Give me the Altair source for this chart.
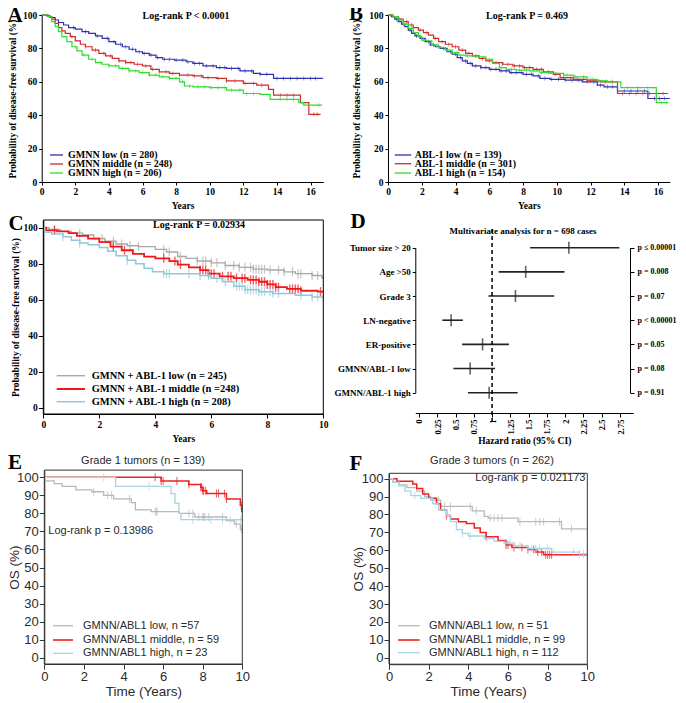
import altair as alt
import pandas as pd

# ======================= DATA =======================
# ---- Panel A : DFS by GMNN (years, % surviving) ----
A_labels = ["GMNN low (n = 280)", "GMNN middle (n = 248)", "GMNN high (n = 206)"]
A_low_t = [0.3, 0.5, 0.8, 1.0, 1.3, 1.6, 2.0, 2.4, 2.8, 3.2, 3.6, 4.0, 4.4, 4.8, 5.2, 5.6, 6.0, 6.4, 6.8, 7.2, 7.9, 8.6, 9.0, 9.6, 10.4, 11.0, 11.8, 12.6, 13.0, 13.8]
A_low_s = [99.5, 98.5, 97, 95.5, 94, 92.5, 91.5, 90, 89, 87.5, 86, 84, 82.5, 81, 79.5, 78, 77, 76, 74.5, 73.5, 73, 72, 71, 69.5, 68.5, 68, 66.5, 65, 64.5, 62]
A_low_end = 16.75
A_low_c = [1.9, 2.6, 3.3, 3.9, 4.3, 4.7, 5.0, 5.4, 5.8, 6.1, 6.5, 6.9, 7.3, 7.6, 8.0, 8.4, 8.7, 9.1, 9.4, 9.8, 10.2, 10.6, 10.9, 11.3, 11.7, 12.1, 12.5, 13.0, 13.4, 14.0, 14.4, 14.8, 15.2, 15.6, 16.0, 16.3]
A_mid_t = [0.4, 0.6, 0.8, 1.0, 1.2, 1.4, 1.7, 2.0, 2.3, 2.6, 3.0, 3.4, 3.8, 4.2, 4.6, 5.0, 5.5, 6.0, 6.5, 7.0, 7.6, 8.2, 9.0, 9.6, 10.4, 11.0, 12.0, 12.8, 13.5, 13.8, 15.4, 15.9]
A_mid_s = [99, 97.5, 95, 92.5, 90.5, 89, 87, 84.5, 82.5, 81, 79, 77, 75.5, 74, 72.5, 71.5, 70.5, 69.5, 67.5, 66, 65, 64, 63.5, 62.5, 62, 60.5, 59, 58, 55.5, 52, 47.5, 40.5]
A_mid_end = 16.6
A_mid_c = [1.8, 2.6, 3.2, 3.7, 4.1, 4.6, 5.0, 5.3, 5.7, 6.2, 6.6, 7.0, 7.4, 7.8, 8.2, 8.7, 9.1, 9.5, 9.9, 10.5, 11.0, 11.5, 12.1, 12.6, 13.1, 14.2, 14.6, 15.0, 16.2, 16.4]
A_high_t = [0.4, 0.6, 0.8, 1.0, 1.2, 1.5, 1.8, 2.1, 2.4, 2.8, 3.2, 3.6, 4.0, 4.6, 5.2, 5.8, 6.4, 7.0, 7.6, 8.2, 8.5, 9.0, 10.0, 11.0, 12.0, 13.0, 13.6, 15.3, 15.6]
A_high_s = [99, 96, 93, 90, 87, 84, 81, 78.5, 76, 73.5, 71.5, 70.5, 69.5, 68, 66.5, 65.5, 64, 63, 62, 60, 57.5, 57, 56.5, 55, 53, 52.5, 49.5, 47.5, 46]
A_high_end = 16.7
A_high_c = [2.0, 2.5, 3.0, 3.5, 4.0, 4.4, 4.8, 5.2, 5.6, 6.0, 6.4, 6.8, 7.2, 7.6, 8.0, 8.4, 8.8, 9.3, 9.7, 10.1, 10.5, 10.9, 11.3, 11.8, 12.2, 12.6, 14.2, 14.6, 15.0, 15.5, 16.5]

# ---- Panel B : DFS by ABL-1 ----
B_labels = ["ABL-1 low (n = 139)", "ABL-1 middle (n = 301)", "ABL-1 high (n = 154)"]
B_low_t = [0.2, 0.4, 0.6, 0.8, 1.0, 1.2, 1.4, 1.6, 1.9, 2.2, 2.5, 2.8, 3.1, 3.5, 3.8, 4.1, 4.4, 4.7, 5.0, 5.5, 6.0, 6.6, 7.2, 8.0, 8.6, 9.0, 9.6, 10.5, 11.5, 12.4, 12.8, 13.6, 15.4]
B_low_s = [99, 97.5, 96, 94.5, 93, 91, 89, 87.5, 86, 84, 82, 81, 80, 78, 76.5, 74.5, 72.5, 71, 69.5, 68.5, 67.5, 66.5, 65.5, 64.5, 63.5, 62, 61.5, 61, 60, 58, 57, 54.5, 50]
B_low_end = 16.7
B_low_c = [0.5, 0.9, 1.3, 1.7, 2.0, 2.4, 2.7, 3.0, 3.3, 3.7, 4.0, 4.3, 4.6, 4.9, 5.2, 5.5, 5.8, 6.1, 6.4, 6.7, 7.0, 7.3, 7.6, 7.9, 8.2, 8.5, 8.9, 9.3, 9.7, 10.1, 10.5, 10.9, 11.3, 11.8, 12.2, 12.6, 13.0, 13.3, 14.0, 14.4, 14.8, 15.2, 15.8, 16.1, 16.4]
B_mid_t = [0.3, 0.6, 0.9, 1.2, 1.5, 1.8, 2.1, 2.4, 2.7, 3.0, 3.4, 3.8, 4.2, 4.6, 5.0, 5.4, 5.8, 6.2, 6.8, 7.4, 8.0, 8.6, 9.2, 9.8, 10.2, 11.0, 11.8, 12.6, 13.6]
B_mid_s = [99, 97.5, 96, 94, 92.5, 91, 89.5, 88, 86, 84, 82.5, 81, 79, 77, 75.5, 74, 72.5, 71.5, 70.5, 69.5, 68.5, 67.5, 66, 64.5, 62.5, 61.5, 60.5, 60, 53]
B_mid_end = 16.6
B_mid_c = [0.7, 1.1, 1.4, 1.9, 2.3, 2.8, 3.2, 3.6, 4.0, 4.4, 4.8, 5.2, 5.6, 6.0, 6.4, 6.8, 7.1, 7.5, 7.8, 8.1, 8.4, 8.8, 9.1, 9.5, 9.9, 10.4, 10.8, 11.2, 11.6, 12.0, 12.5, 12.9, 13.3, 13.9, 14.3, 14.7, 15.1, 15.5, 15.9, 16.3]
B_high_t = [0.3, 0.6, 0.9, 1.2, 1.5, 1.8, 2.0, 2.3, 2.6, 3.0, 3.4, 3.8, 4.2, 4.6, 5.2, 5.8, 6.2, 6.6, 7.0, 7.6, 8.4, 9.0, 9.6, 10.4, 11.0, 11.8, 12.4, 13.0, 13.8, 15.9]
B_high_s = [99, 97, 94.5, 92, 89.5, 87, 85, 84.5, 82, 80.5, 79, 77.5, 76, 75.5, 75, 73.5, 71, 68.5, 67.5, 67, 66.5, 65.5, 65, 64, 63, 61.5, 60.5, 60, 56.5, 47.5]
B_high_end = 16.6
B_high_c = [0.8, 1.4, 2.1, 2.9, 3.5, 4.1, 4.7, 5.4, 6.0, 6.7, 7.3, 7.8, 8.2, 8.6, 9.1, 9.5, 10.0, 10.6, 11.1, 11.6, 12.1, 12.7, 13.2, 14.2, 14.8, 15.4, 16.2, 16.5]

# ---- Panel C : DFS by GMNN + ABL-1 ----
C_labels = ["GMNN + ABL-1 low (n = 245)", "GMNN + ABL-1 middle (n =248)", "GMNN + ABL-1 high (n = 208)"]
C_low_t = [0.2, 0.6, 1.0, 1.4, 1.8, 2.2, 2.6, 3.0, 3.4, 4.0, 4.4, 4.8, 5.1, 5.5, 6.0, 6.5, 7.0, 7.5, 8.0, 8.6, 9.0, 9.6, 9.95]
C_low_s = [99, 98, 97, 96, 94, 92.5, 91, 90, 89.5, 88, 86.5, 84, 83, 81.5, 80.5, 79, 78, 77, 76.5, 75.5, 74.5, 73.5, 72]
C_low_end = 10.0
C_low_c = [0.4, 1.3, 2.1, 2.5, 2.8, 3.1, 3.4, 4.3, 4.5, 4.9, 5.5, 5.7, 5.8, 6.0, 6.2, 6.5, 6.8, 7.0, 7.2, 7.4, 7.5, 7.6, 7.7, 7.8, 7.9, 8.1, 8.4, 8.6, 8.9, 9.1, 9.2, 9.6, 9.8]
C_mid_t = [0.1, 0.5, 0.9, 1.2, 1.6, 2.0, 2.4, 2.8, 3.2, 3.6, 4.0, 4.5, 4.8, 5.2, 5.6, 5.9, 6.3, 6.8, 7.3, 7.7, 8.0, 8.3, 8.7, 9.2, 9.8]
C_mid_s = [98.5, 98, 97, 95.5, 94, 92, 89.5, 87.5, 85.5, 84, 83, 81.5, 79.5, 78, 76.5, 74.5, 73, 72, 71, 70, 68.5, 67, 66, 65, 64.5]
C_mid_end = 10.0
C_mid_c = [0.4, 2.5, 2.9, 4.3, 4.7, 4.9, 5.6, 5.7, 5.8, 5.9, 6.0, 6.1, 6.4, 6.6, 6.7, 6.9, 7.1, 7.2, 7.4, 7.5, 7.6, 7.7, 7.8, 7.9, 8.0, 8.1, 8.2, 8.3, 8.4, 8.8, 8.9, 9.0, 9.1, 9.2, 9.9]
C_high_t = [0.05, 0.3, 0.7, 1.0, 1.3, 1.6, 2.0, 2.3, 2.6, 3.0, 3.3, 3.6, 3.9, 4.3, 5.6, 6.0, 6.4, 6.8, 7.2, 7.7, 8.2, 9.0, 9.6]
C_high_s = [97.5, 96.5, 95, 93, 91.5, 90.5, 89, 87, 84.5, 82, 80, 77.5, 75.5, 74.5, 73.5, 72, 70, 67.5, 65.5, 64.5, 63.5, 62.5, 61.5]
C_high_end = 10.0
C_high_c = [0.7, 1.3, 3.0, 4.3, 4.4, 4.5, 5.2, 5.6, 5.9, 6.2, 6.5, 6.9, 7.0, 7.1, 7.2, 7.3, 7.4, 7.5, 7.6, 7.7, 7.8, 7.9, 8.1, 8.2, 8.4, 9.2, 9.6, 9.8, 10.0]

# ---- Panel D : multivariate Cox model ----
D_rows = ["Tumor size > 20", "Age >50", "Grade 3", "LN-negative", "ER-positive", "GMNN/ABL-1 low", "GMNN/ABL-1 high"]
D_hr = [2.05, 1.46, 1.32, 0.44, 0.87, 0.70, 0.96]
D_lo = [1.52, 1.09, 0.95, 0.32, 0.59, 0.47, 0.67]
D_hi = [2.74, 1.99, 1.85, 0.60, 1.23, 1.04, 1.35]
D_p = ["p \u2264 0.00001", "p = 0.008", "p = 0.07", "p <  0.00001", "p = 0.05", "p = 0.08", "p = 0.91"]
D_ticks = [0, 0.25, 0.5, 0.75, 1, 1.25, 1.5, 1.75, 2, 2.25, 2.5, 2.75]

# ---- Panel E : OS grade 1 ----
E_labels = ["GMNN/ABL1 low, n =57", "GMNN/ABL1 middle, n = 59", "GMNN/ABL1 high, n = 23"]
E_low_t = [0.05, 0.5, 0.9, 1.6, 2.4, 3.0, 3.5, 4.4, 4.6, 5.4, 6.8, 7.6, 9.2, 9.6, 9.9]
E_low_s = [98, 96.5, 95, 93, 92, 90, 88, 86, 82, 81, 80, 78, 76, 74, 71]
E_low_end = 10.0
E_low_c = [2.5, 3.2, 3.4, 4.3, 5.6, 5.65, 5.7, 7.3, 7.5, 7.8, 8.0, 8.05, 8.1, 8.3, 9.0, 9.7, 9.95]
E_mid_t = [5.9, 7.3, 7.9, 8.0, 8.2, 9.2, 9.9, 9.97]
E_mid_s = [98, 96, 94.5, 92.5, 91, 88, 84.5, 81]
E_mid_end = 10.0
E_mid_c = [5.6, 5.9, 6.0, 6.7, 7.3, 7.9, 7.95, 8.0, 8.05, 8.15, 8.7, 8.8, 9.1, 9.2, 9.95]
E_high_t = [3.6, 6.4, 6.6, 6.8, 6.9]
E_high_s = [95, 91, 85.5, 80, 76.5]
E_high_end = 10.0
E_high_c = [3.0, 5.3, 7.5, 8.4, 9.0, 9.4, 9.9]

# ---- Panel F : OS grade 3 ----
F_labels = ["GMNN/ABL1 low, n = 51", "GMNN/ABL1 middle, n = 99", "GMNN/ABL1 high, n = 112"]
F_low_t = [0.2, 0.5, 0.9, 1.4, 1.8, 2.1, 2.6, 4.2, 4.8, 5.0, 6.5, 8.7]
F_low_s = [98, 96.5, 95, 93, 90, 88, 84.5, 82, 79, 78, 76, 72]
F_low_end = 10.0
F_low_c = [2.5, 2.8, 3.1, 4.1, 4.4, 5.1, 5.3, 5.5, 5.7, 6.6, 7.4, 7.6, 7.8, 8.6, 9.2]
F_mid_t = [0.4, 1.2, 1.4, 1.7, 2.0, 2.4, 2.6, 2.9, 3.1, 3.5, 3.9, 4.3, 4.6, 4.9, 5.5, 5.9, 6.2, 7.0, 7.4, 7.8]
F_mid_s = [98.5, 97, 94.5, 91.5, 89, 86, 82.5, 79.5, 77.5, 76, 75, 72.5, 70, 67.5, 65.5, 63, 61.5, 60.5, 59, 57.5]
F_mid_end = 10.0
F_mid_c = [2.9, 4.9, 5.9, 6.0, 6.3, 6.7, 7.0, 7.3, 7.5, 7.7, 7.9, 8.0, 8.1, 8.2]
F_high_t = [0.2, 0.5, 0.8, 1.1, 1.6, 2.2, 2.5, 2.9, 3.1, 3.4, 3.7, 4.0, 4.8, 5.3, 5.8, 6.3, 7.0, 8.2, 9.6]
F_high_s = [98, 96, 93, 90.5, 89, 86, 82.5, 79.5, 76, 71.5, 69.5, 68, 66.5, 65, 64, 62.5, 61, 59, 58]
F_high_end = 10.0
F_high_c = [1.3, 3.7, 4.1, 5.9, 6.1, 6.3, 6.6, 7.0, 7.2, 7.4, 7.6, 8.0, 8.3, 9.3, 9.6, 9.8, 10.0]

# ======================= STYLE / LAYOUT =======================
SERIF = "Liberation Serif"
SANS = "Liberation Sans"
OFF = 8          # page margin
W, H = 670, 695  # drawing area


def px(v):
    return v - OFF


AB_COLORS = ["#2f2fb0", "#cf2b2b", "#2fdc2f"]
C_COLORS = ["#a9a9a9", "#f01818", "#8fc7dc"]
EF_COLORS = ["#b8b8b8", "#ee2222", "#a7d3e4"]


def step_df(t, s, end):
    return pd.DataFrame({"t": [0.0] + list(t) + [end], "s": [100.0] + list(s) + [s[-1]]})


def censor_df(t, s, cens):
    rows = []
    for c in cens:
        v = 100.0
        for ti, si in zip(t, s):
            if ti <= c:
                v = si
        rows.append({"t": c, "s": v})
    return pd.DataFrame(rows)


def serif_axis(**kw):
    base = dict(labelFont=SERIF, labelFontWeight="bold", labelColor="black",
                titleFont=SERIF, titleFontWeight="bold", titleColor="black",
                domainColor="black", tickColor="black", grid=False,
                labelFlush=False, labelOverlap=False)
    base.update(kw)
    return alt.Axis(**base)


def sans_axis(**kw):
    base = dict(labelFont=SANS, labelFontWeight="normal", labelColor="#2a2a2a",
                titleFont=SANS, titleFontWeight="normal", titleColor="#2a2a2a",
                domainColor="#333", tickColor="#333", grid=False,
                labelFlush=False, labelOverlap=False)
    base.update(kw)
    return alt.Axis(**base)


def km_panel(curves, xs, ys, xa, ya, frame=None):
    layers = []
    for (t, s, end, cens, color, lw, tsize, tw) in curves:
        enc = dict(x=alt.X("t:Q", scale=xs, axis=xa), y=alt.Y("s:Q", scale=ys, axis=ya))
        layers.append(alt.Chart(step_df(t, s, end)).mark_line(
            interpolate="step-after", color=color, strokeWidth=lw).encode(**enc))
        layers.append(alt.Chart(censor_df(t, s, cens)).mark_tick(
            orient="vertical", size=tsize, thickness=tw, color=color).encode(**enc))
    if frame is not None:
        x0, x1, y0, y1, fc = frame
        fdf = pd.DataFrame({"t": [x0], "t2": [x1], "s": [y0], "s2": [y1]})
        layers.append(alt.Chart(fdf).mark_rect(fillOpacity=0, stroke=fc, strokeWidth=1).encode(
            x=alt.X("t:Q", scale=xs, axis=xa), x2="t2:Q",
            y=alt.Y("s:Q", scale=ys, axis=ya), y2="s2:Q"))
    return alt.layer(*layers)


def lin(domain, r):
    return alt.Scale(domain=domain, range=r, nice=False, zero=False)


# ---------------- Panel A ----------------
xA = lin([0, 16.76], [px(41.7), px(41.7 + 16.76 * 16.8)])
yA = lin([0, 100], [px(182), px(15)])
ax_xA = serif_axis(orient="bottom", offset=px(182) - H, values=list(range(0, 17, 2)), tickSize=3,
                   labelFontSize=9.5, labelPadding=1, title="Years", titleFontSize=9.5, titlePadding=5)
ax_yA = serif_axis(orient="left", offset=-px(41.7), values=list(range(0, 101, 20)), tickSize=3,
                   labelFontSize=9.5, labelPadding=2, title="Probability of disease-free survival (%)",
                   titleFontSize=9.5, titlePadding=5)
panelA = km_panel([
    (A_low_t, A_low_s, A_low_end, A_low_c, AB_COLORS[0], 1.2, 4, 0.8),
    (A_mid_t, A_mid_s, A_mid_end, A_mid_c, AB_COLORS[1], 1.2, 4, 0.8),
    (A_high_t, A_high_s, A_high_end, A_high_c, AB_COLORS[2], 1.2, 4, 0.8),
], xA, yA, ax_xA, ax_yA)

# ---------------- Panel B ----------------
xB = lin([0, 16.7], [px(388), px(388 + 16.7 * 16.875)])
yB = lin([0, 100], [px(182), px(15)])
ax_xB = serif_axis(orient="bottom", offset=px(182) - H, values=list(range(0, 17, 2)), tickSize=3,
                   labelFontSize=9.5, labelPadding=1, title="Years", titleFontSize=9.5, titlePadding=5)
ax_yB = serif_axis(orient="left", offset=-px(388), values=list(range(0, 101, 20)), tickSize=3,
                   labelFontSize=9.5, labelPadding=2, title="Probability of disease-free survival (%)",
                   titleFontSize=9.5, titlePadding=7)
panelB = km_panel([
    (B_low_t, B_low_s, B_low_end, B_low_c, AB_COLORS[0], 1.2, 4, 0.8),
    (B_mid_t, B_mid_s, B_mid_end, B_mid_c, AB_COLORS[1], 1.2, 4, 0.8),
    (B_high_t, B_high_s, B_high_end, B_high_c, AB_COLORS[2], 1.2, 4, 0.8),
], xB, yB, ax_xB, ax_yB)

# ---------------- Panel C ----------------
C_ymin, C_ymax = -3.5, 104.3
xC = lin([0, 10], [px(43.3), px(323.3)])
yC = lin([C_ymin, C_ymax], [px(414), px(220)])
ax_xC = serif_axis(orient="bottom", offset=px(414) - H, values=list(range(0, 11, 2)), tickSize=4,
                   labelFontSize=9.5, labelPadding=1, title="Years", titleFontSize=9.5, titlePadding=5)
ax_yC = serif_axis(orient="left", offset=-px(43.3), values=list(range(0, 101, 20)), tickSize=5,
                   labelFontSize=9.5, labelPadding=1, title="Probability of disease-free survival (%)",
                   titleFontSize=9.5, titlePadding=3)
panelC = km_panel([
    (C_low_t, C_low_s, C_low_end, C_low_c, C_COLORS[0], 1.4, 9, 1.2),
    (C_mid_t, C_mid_s, C_mid_end, C_mid_c, C_COLORS[1], 1.8, 9, 1.4),
    (C_high_t, C_high_s, C_high_end, C_high_c, C_COLORS[2], 1.5, 9, 1.2),
], xC, yC, ax_xC, ax_yC, frame=(0, 10, C_ymin, C_ymax, "black"))

# ---------------- Panel D ----------------
d_df = pd.DataFrame({"row": D_rows, "hr": D_hr, "lo": D_lo, "hi": D_hi, "p": D_p})
xD = lin([-0.05, 2.93], [px(415.3), px(633.2)])
yD = alt.Scale(type="point", domain=D_rows, range=[px(247.7), px(392.7)], padding=0)
ax_xD = serif_axis(orient="bottom", offset=px(413) - H, values=D_ticks, labelAngle=270,
                   labelExpr="datum.value + ''", labelFontSize=8.5, tickSize=4, labelPadding=2,
                   title="Hazard ratio (95% CI)", titleFontSize=9.5, titlePadding=2)
ax_yD = serif_axis(orient="left", offset=-px(415.3), labelFontSize=9, tickSize=3, labelPadding=2, title=None)
d_ci = alt.Chart(d_df).mark_rule(color="#222", strokeWidth=1.6).encode(
    x=alt.X("lo:Q", scale=xD, axis=ax_xD), x2="hi:Q", y=alt.Y("row:N", scale=yD, axis=ax_yD))
d_hr = alt.Chart(d_df).mark_tick(orient="vertical", size=12, thickness=1.6, color="#222").encode(
    x=alt.X("hr:Q", scale=xD, axis=ax_xD), y=alt.Y("row:N", scale=yD, axis=ax_yD))
d_ref = alt.Chart(pd.DataFrame({"hr": [1.0]})).mark_rule(color="black", strokeWidth=1.5, strokeDash=[4, 3]).encode(
    x=alt.X("hr:Q", scale=xD, axis=ax_xD), y=alt.value(px(229)), y2=alt.value(px(425)))
panelD = alt.layer(d_ci, d_hr, d_ref)
panelD_right = alt.Chart(d_df).mark_point(opacity=0).encode(
    y=alt.Y("p:N", scale=alt.Scale(type="point", domain=D_p, range=[px(247.7), px(392.7)], padding=0),
            axis=serif_axis(orient="right", offset=px(630) - W, labelFontSize=8, tickSize=4,
                            labelPadding=3, title=None)))

# ---------------- Panel E ----------------
E_ymin, E_ymax = -3.5, 104.0
xE = lin([0, 10], [px(44.3), px(242.3)])
yE = lin([E_ymin, E_ymax], [px(664.0), px(470.1)])
ax_xE = sans_axis(orient="bottom", offset=px(664) - H, values=list(range(0, 11, 2)), tickSize=5,
                  labelFontSize=13, labelPadding=1, title="Time (Years)", titleFontSize=13.5, titlePadding=1)
ax_yE = sans_axis(orient="left", offset=-px(44.3), values=list(range(0, 101, 10)), tickSize=5,
                  labelFontSize=13, labelPadding=1, title="OS (%)", titleFontSize=13.5, titlePadding=-5)
panelE = km_panel([
    (E_low_t, E_low_s, E_low_end, E_low_c, EF_COLORS[0], 1.3, 8, 1.0),
    (E_mid_t, E_mid_s, E_mid_end, E_mid_c, EF_COLORS[1], 1.5, 8, 1.1),
    (E_high_t, E_high_s, E_high_end, E_high_c, EF_COLORS[2], 1.3, 8, 1.0),
], xE, yE, ax_xE, ax_yE, frame=(0, 10, E_ymin, E_ymax, "#333"))

# ---------------- Panel F ----------------
F_ymin, F_ymax = -3.6, 103.0
xF = lin([0, 10], [px(389), px(587.3)])
yF = lin([F_ymin, F_ymax], [px(664.2), px(473.3)])
ax_xF = sans_axis(orient="bottom", offset=px(664.2) - H, values=list(range(0, 11, 2)), tickSize=5,
                  labelFontSize=13, labelPadding=1, title="Time (Years)", titleFontSize=13.5, titlePadding=1)
ax_yF = sans_axis(orient="left", offset=-px(389), values=list(range(0, 101, 10)), tickSize=5,
                  labelFontSize=13, labelPadding=1, title="OS (%)", titleFontSize=13.5, titlePadding=-4)
panelF = km_panel([
    (F_low_t, F_low_s, F_low_end, F_low_c, EF_COLORS[0], 1.3, 8, 1.0),
    (F_mid_t, F_mid_s, F_mid_end, F_mid_c, EF_COLORS[1], 1.5, 8, 1.1),
    (F_high_t, F_high_s, F_high_end, F_high_c, EF_COLORS[2], 1.3, 8, 1.0),
], xF, yF, ax_xF, ax_yF, frame=(0, 10, F_ymin, F_ymax, "#333"))


# ---------------- text & legends (pixel layout) ----------------
def text_layer(items, font, weight, color, align):
    df = pd.DataFrame(items, columns=["text", "x", "y", "fs"])
    df["x"] = df["x"] - OFF
    df["y"] = df["y"] - OFF
    return alt.Chart(df).mark_text(font=font, fontWeight=weight, color=color, align=align,
                                   baseline="middle").encode(
        x=alt.X("x:Q", scale=None, axis=None), y=alt.Y("y:Q", scale=None, axis=None),
        text="text:N", size=alt.Size("fs:Q", scale=None, legend=None))


letters = text_layer([("A", 15, 16, 21), ("B", 356, 14, 21), ("C", 16, 224, 21),
                      ("D", 358, 222, 21), ("E", 15, 463, 21), ("F", 356, 464, 21)],
                     SERIF, "bold", "black", "center")
serif_titles = text_layer([("Log-rank P < 0.0001", 186, 16, 10), ("Log-rank P = 0.469", 527, 16, 10),
                           ("Log-rank P = 0.02934", 199, 225, 10),
                           ("Multivariate analysis for n = 698 cases", 523, 231, 9)],
                          SERIF, "bold", "black", "center")
serif_legend = text_layer(
    [(A_labels[i], 68, [155, 164, 173][i], 10) for i in range(3)]
    + [(B_labels[i], 414.7, [155, 163.7, 173][i], 10) for i in range(3)]
    + [(C_labels[i], 91.7, [375.7, 389, 401.7][i], 10.5) for i in range(3)],
    SERIF, "bold", "black", "left")
sans_left = text_layer(
    [(E_labels[i], 83, [625.7, 640, 653.3][i], 11) for i in range(3)]
    + [(F_labels[i], 429, [625.7, 640, 652.7][i], 11) for i in range(3)]
    + [("Log-rank p = 0.13986", 48.3, 531, 11)],
    SANS, "normal", "#2a2a2a", "left")
sans_right = text_layer([("Log-rank p = 0.021173", 585.5, 478, 11)], SANS, "normal", "#2a2a2a", "right")
sans_center = text_layer([("Grade 1 tumors (n = 139)", 143, 461, 11), ("Grade 3 tumors (n = 262)", 492, 461, 11)],
                         SANS, "normal", "#2a2a2a", "center")

leg_rows = []
for i in range(3):
    leg_rows.append((50, 63, [155, 164, 173][i], AB_COLORS[i], 1.3))
    leg_rows.append((394.7, 411.3, [155, 163.7, 173][i], AB_COLORS[i], 1.3))
    leg_rows.append((56.7, 85, [375.7, 389, 401.7][i], C_COLORS[i], [1.4, 2.0, 1.5][i]))
    leg_rows.append((53, 73, [625.7, 640, 653.3][i], EF_COLORS[i], [1.3, 1.6, 1.3][i]))
    leg_rows.append((398, 419.7, [625.7, 640, 652.7][i], EF_COLORS[i], [1.3, 1.6, 1.3][i]))
leg_df = pd.DataFrame(leg_rows, columns=["x1", "x2", "y", "color", "w"])
for c in ["x1", "x2", "y"]:
    leg_df[c] = leg_df[c] - OFF
legend_lines = alt.Chart(leg_df).mark_rule().encode(
    x=alt.X("x1:Q", scale=None, axis=None), x2="x2:Q", y=alt.Y("y:Q", scale=None, axis=None),
    color=alt.Color("color:N", scale=None, legend=None),
    strokeWidth=alt.StrokeWidth("w:Q", scale=None, legend=None))

chart = alt.layer(
    panelA, panelB, panelC, panelD, panelD_right, panelE, panelF,
    legend_lines, letters, serif_titles, serif_legend, sans_left, sans_right, sans_center,
).resolve_scale(x="independent", y="independent").resolve_axis(
    x="independent", y="independent"
).properties(
    width=W, height=H, padding=0, autosize=alt.AutoSizeParams(type="none"), background="white"
).configure_view(stroke=None)

chart.save("out.html", embed_options={"renderer": "svg", "actions": False})
